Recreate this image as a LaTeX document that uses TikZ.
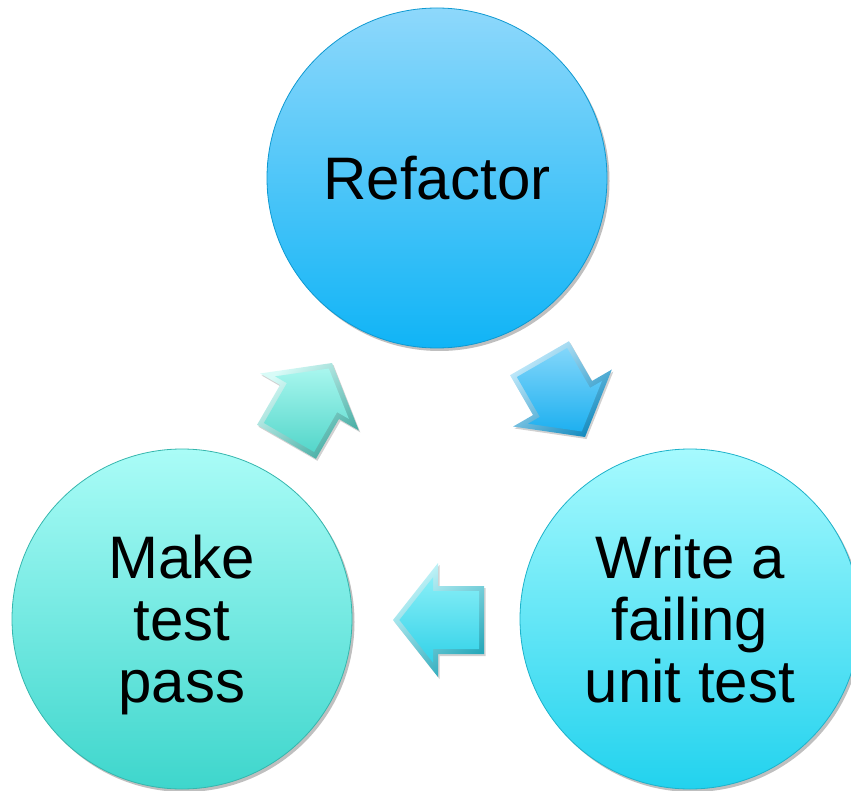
\documentclass[tikz,border=0pt]{standalone}
\usepackage{fontspec}
\setmainfont{Liberation Sans}
\usetikzlibrary{calc}
\definecolor{refTop}{RGB}{142,216,251}
\definecolor{refBot}{RGB}{16,180,246}
\definecolor{wrTop}{RGB}{166,250,254}
\definecolor{wrBot}{RGB}{34,210,238}
\definecolor{mkTop}{RGB}{170,252,247}
\definecolor{mkBot}{RGB}{62,214,204}
\definecolor{ulLight}{RGB}{168,246,238}
\definecolor{ulDark}{RGB}{84,214,202}
\definecolor{urLight}{RGB}{130,214,250}
\definecolor{urDark}{RGB}{30,176,240}
\definecolor{lLight}{RGB}{136,238,247}
\definecolor{lDark}{RGB}{50,210,232}
\tikzset{
  stage/.style={circle, minimum size=340pt, inner sep=0pt, align=center,
    font=\fontsize{60}{62}\selectfont, line width=0.8pt},
  stageshadow/.style={fill=black, opacity=0.25},
}
\newcommand\blockarrow[5]{%
  \begin{scope}[shift={#2}, rotate=#3]
    \coordinate (#1o1) at (0,0);
    \coordinate (#1o2) at (-45,57);
    \coordinate (#1o3) at (-45,34);
    \coordinate (#1o4) at (-91,34);
    \coordinate (#1o5) at (-91,-34);
    \coordinate (#1o6) at (-45,-34);
    \coordinate (#1o7) at (-45,-57);
    \coordinate (#1i1) at (-6.4,0);
    \coordinate (#1i2) at (-40,42.6);
    \coordinate (#1i3) at (-40,29);
    \coordinate (#1i4) at (-86,29);
    \coordinate (#1i5) at (-86,-29);
    \coordinate (#1i6) at (-40,-29);
    \coordinate (#1i7) at (-40,-42.6);
  \end{scope}
  \fill[black, opacity=0.18] ($(#1o1)+(1.5,-2)$) -- ($(#1o2)+(1.5,-2)$) -- ($(#1o3)+(1.5,-2)$) -- ($(#1o4)+(1.5,-2)$) -- ($(#1o5)+(1.5,-2)$) -- ($(#1o6)+(1.5,-2)$) -- ($(#1o7)+(1.5,-2)$) -- cycle;
  \shade[top color=#4!45!white, bottom color=#5!80!black, shading angle=40]
    (#1o1) -- (#1o2) -- (#1o3) -- (#1o4) -- (#1o5) -- (#1o6) -- (#1o7) -- cycle;
  \shade[top color=#4, bottom color=#5]
    (#1i1) -- (#1i2) -- (#1i3) -- (#1i4) -- (#1i5) -- (#1i6) -- (#1i7) -- cycle;
}
\begin{document}
\begin{tikzpicture}[x=1pt, y=1pt]
  \useasboundingbox (0,0) rectangle (851,-791);
  % shadows
  \fill[stageshadow] (439.5,-181) circle (170pt);
  \fill[stageshadow] (692.5,-622) circle (170pt);
  \fill[stageshadow] (184.5,-622) circle (170pt);
  % stages
  \node[stage, top color=refTop, bottom color=refBot, draw=refBot!85!black] (refactor) at (437,-178) {Refactor};
  \node[stage, top color=wrTop, bottom color=wrBot, draw=wrBot!85!black] (write) at (690,-619) {Write a\\failing\\unit test};
  \node[stage, top color=mkTop, bottom color=mkBot, draw=mkBot!85!black] (make) at (182,-619) {Make\\test\\\smash{pass}};
  % arrows
  \blockarrow{ur}{(585,-437)}{-60}{urLight}{urDark}
  \blockarrow{lf}{(393,-620)}{180}{lLight}{lDark}
  \blockarrow{ul}{(332,-363)}{60}{ulLight}{ulDark}
\end{tikzpicture}
\end{document}
